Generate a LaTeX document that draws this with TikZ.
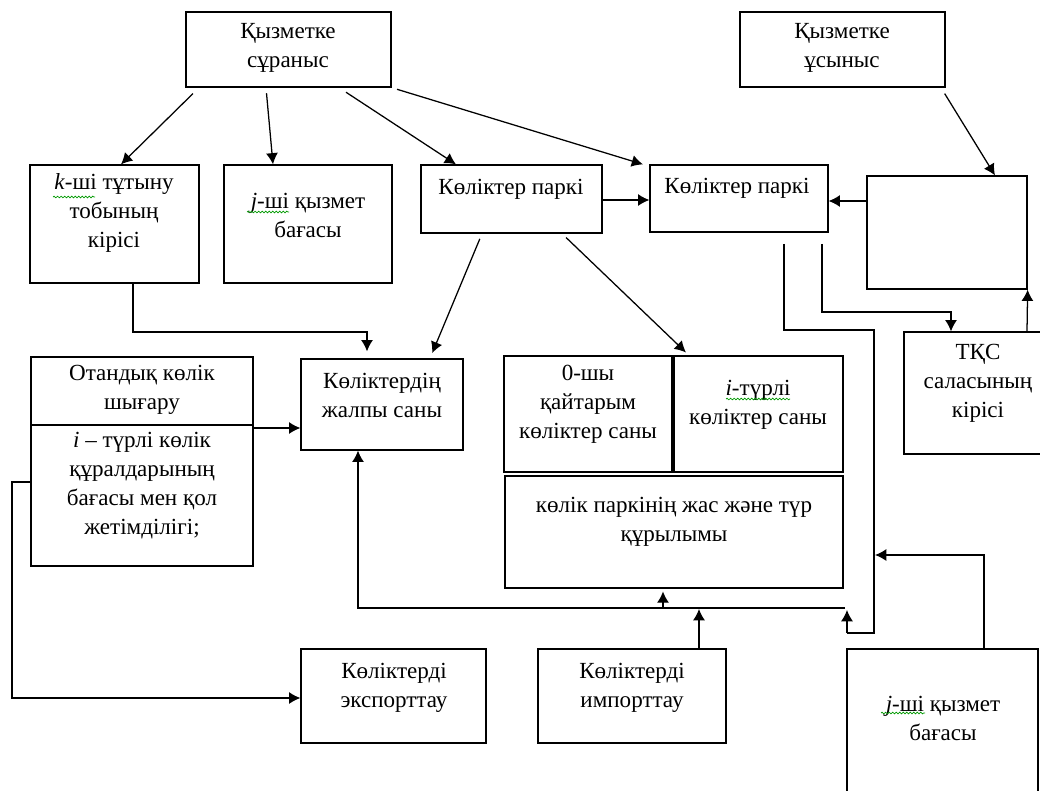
\documentclass[tikz,border=0pt]{standalone}
\usepackage{fontspec}
\setmainfont{Liberation Serif}
\usetikzlibrary{arrows.meta,fit,decorations.pathmorphing}

\tikzset{
  box/.style={draw, line width=0.9pt, inner sep=0pt},
  txt/.style={align=center, inner sep=0pt, font=\fontsize{16.4}{20.6}\selectfont},
  arr/.style={line width=0.9pt, -{Latex[length=8pt,width=8.5pt]}},
  ln/.style={line width=0.9pt},
  gap/.style={shorten <=4pt},
  spell/.style={green!60!black, line width=0.5pt, decorate,
    decoration={snake, amplitude=0.6pt, segment length=2.5pt}},
}

\begin{document}
\begin{tikzpicture}[x=0.025cm, y=-0.025cm]
  \useasboundingbox (0,0) rectangle (1040,790);

  % boxes
  \node[box, fit={(186,12) (391,87)}] (dem) {};
  \node[txt] (dem-t) at (288,48) {Қызметке\\сұраныс};
  \node[box, fit={(740,12) (945,87)}] (sup) {};
  \node[txt] (sup-t) at (842,48) {Қызметке\\ұсыныс};
  \node[box, fit={(30,165) (199,283)}] (kinc) {};
  \node[txt] (kinc-t) at (114,213) {\textit{k}-ші тұтыну\\тобының\\кірісі};
  \node[box, fit={(224,165) (392,283)}] (jpr) {};
  \node[txt] (jpr-t) at (308,215) {\textit{j}-ші қызмет\\бағасы};
  \node[box, fit={(421,165) (602,233)}] (park1) {};
  \node[txt] (park1-t) at (511,189) {Көліктер паркі};
  \node[box, fit={(650,165) (828,232)}] (park2) {};
  \node[txt] (park2-t) at (737,188) {Көліктер паркі};
  \node[box, fit={(867,176) (1027,289)}] (spare) {};
  \node[box, fit={(31,357) (253,425)}] (otan) {};
  \node[txt] (otan-t) at (142,390) {Отандық көлік\\шығару};
  \node[box, fit={(31,425) (253,566)}] (avail) {};
  \node[txt] (avail-t) at (142,486) {\textit{i} – түрлі көлік\\құралдарының\\бағасы мен қол\\жетімділігі;};
  \node[box, fit={(301,359) (463,450)}] (total) {};
  \node[txt] (total-t) at (382,395) {Көліктердің\\жалпы саны};
  \node[box, fit={(504,356) (672,472)}] (zero) {};
  \node[txt] (zero-t) at (588,404) {0-шы\\қайтарым\\көліктер саны};
  \node[box, fit={(674,356) (843,472)}] (itype) {};
  \node[txt] (itype-t) at (758,405) {\textit{i}-түрлі\\көліктер саны};
  \node[box, fit={(505,476) (843,588)}] (age) {};
  \node[txt] (age-t) at (674,522) {көлік паркінің жас және түр\\құрылымы};
  \node[box, fit={(904,332) (1050,454)}] (tks) {};
  \node[txt] (tks-t) at (978,383) {ТҚС\\саласының\\кірісі};
  \node[box, fit={(301,649) (486,743)}] (export) {};
  \node[txt] (export-t) at (394,688) {Көліктерді\\экспорттау};
  \node[box, fit={(538,649) (726,743)}] (import) {};
  \node[txt] (import-t) at (632,688) {Көліктерді\\импорттау};
  \node[box, fit={(847,649) (1038,800)}] (jpr2) {};
  \node[txt] (jpr2-t) at (943,718) {\textit{j}-ші қызмет\\бағасы};

  % spell-check marks
  \draw[spell] (53,197) -- (95,197);
  \draw[spell] (247,212) -- (289,212);
  \draw[spell] (726,399) -- (790,399);
  \draw[spell] (881,713) -- (925,713);

  % from demand
  \draw[arr, shorten <=6pt] (dem.south -| 199,0) -- (kinc.north -| 121,0);
  \draw[arr, gap] (dem.south -| 266,0) -- (jpr.north -| 273,0);
  \draw[arr, shorten <=6pt] (dem.south -| 339,0) -- (park1.north -| 456,0);
  \draw[arr, gap] (dem.south east) -- (park2.north -| 643,0);
  \draw[arr, shorten <=5pt] (sup.south -| 941,0) -- (spare.north -| 995,0);

  % fleet
  \draw[arr] (park1.east |- 0,200) -- (park2.west |- 0,200);
  \draw[arr] (spare.west |- 0,201) -- (park2.east |- 0,201);
  \draw[arr, gap, shorten >=4pt] (park1.south -| 482,0) -- (total.north -| 430,0);
  \draw[arr, gap, shorten >=3pt] (park1.south -| 562,0) -- (itype.north -| 689,0);
  \draw[arr, shorten >=5pt] (kinc.south -| 133,0) |- (367,332) -- (total.north -| 367,0);
  \draw[arr] (otan.east |- 0,428) -- (total.west |- 0,428);
  \draw[arr] (avail.west |- 0,482) -- (12,482) |- (export.west |- 0,698);

  % right side loops
  \draw[ln, shorten <=8pt] (park2.south -| 784,0) |- (874,330) -- (874,633) -- (847,633);
  \draw[arr] (847,633) -- (847,610);
  \draw[arr, shorten <=8pt] (park2.south -| 822,0) |- (951,312) -- (tks.north -| 951,0);
  \draw[arr] (tks.north -| 1027,0) -- (spare.south east);
  \draw[arr] (jpr2.north -| 984,0) |- (875,555);

  % bottom line
  \draw[arr] (845,608) -- (358,608) -- (total.south -| 358,0);
  \draw[arr, shorten >=2pt] (663,608) -- (age.south -| 663,0);
  \draw[arr] (import.north -| 699,0) -- (699,609);
\end{tikzpicture}
\end{document}
